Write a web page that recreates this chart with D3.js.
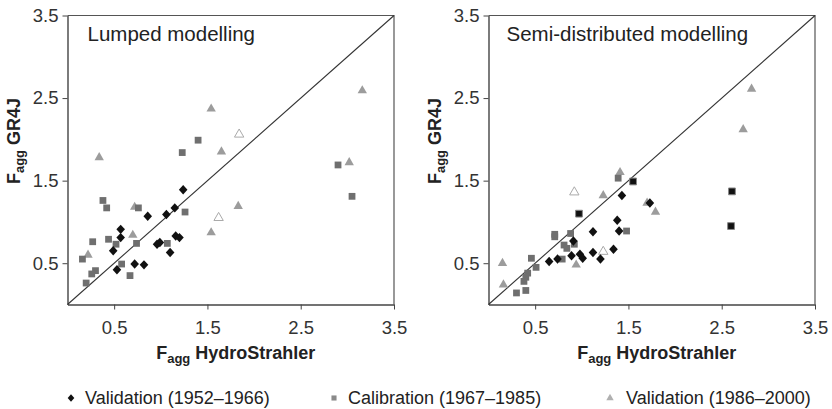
<!DOCTYPE html>
<html>
<head>
<meta charset="utf-8">
<script src="https://cdn.jsdelivr.net/npm/d3@7"></script>
<style>
  body { margin: 0; background: #fff; }
  svg { display: block; font-family: "Liberation Sans", Arial, sans-serif; }
</style>
</head>
<body>
<div id="my_dataviz"></div>
<script>

// tick labels shared by both axes
var tickValues = [0.5, 1.5, 2.5, 3.5];

// Lumped modelling panel, [F_agg HydroStrahler, F_agg GR4J]
var lumpedVal1 = [[1.24,1.39],[1.15,1.17],[1.06,1.09],[0.86,1.07],[0.57,0.91],[0.57,0.81],[0.96,0.73],[0.99,0.75],[1.16,0.83],[1.20,0.81],[0.49,0.65],[1.10,0.63],[0.72,0.49],[0.82,0.48],[0.53,0.42]];
var lumpedCal = [[1.40,1.99],[1.23,1.84],[0.38,1.26],[0.42,1.17],[0.76,1.17],[1.26,1.12],[0.44,0.79],[0.27,0.76],[0.52,0.73],[0.74,0.74],[1.07,0.74],[0.16,0.55],[0.58,0.49],[0.30,0.41],[0.26,0.37],[0.67,0.35],[0.20,0.26],[2.90,1.69],[3.05,1.31]];
var lumpedVal2 = [[3.16,2.59],[1.54,2.37],[1.65,1.85],[0.34,1.78],[3.02,1.72],[1.83,1.19],[0.72,1.18],[1.54,0.87],[0.70,0.84],[0.22,0.60]];
var lumpedVal2Faint = [[1.84,2.06],[1.62,1.05]];
var lumpedOverlap = [];

// Semi-distributed modelling panel
var semiVal1 = [[1.43,1.32],[1.73,1.23],[1.38,1.02],[1.12,0.88],[1.40,0.89],[0.91,0.77],[1.34,0.67],[1.12,0.63],[0.98,0.61],[1.01,0.56],[0.89,0.59],[1.20,0.55],[0.65,0.52],[0.74,0.55]];
var semiCal = [[1.39,1.53],[1.48,0.89],[0.71,0.85],[0.71,0.82],[0.88,0.86],[0.92,0.73],[0.81,0.72],[0.84,0.68],[0.79,0.55],[0.46,0.56],[0.51,0.45],[0.42,0.38],[0.40,0.33],[0.38,0.28],[0.40,0.17],[0.30,0.14]];
var semiVal2 = [[2.82,2.61],[2.73,2.12],[1.41,1.60],[1.23,1.32],[1.70,1.23],[1.79,1.12],[0.94,0.48],[0.15,0.50],[0.16,0.24]];
var semiVal2Faint = [[0.92,1.36],[1.23,0.64]];
// points where a 1952-1966 and a calibration marker sit on top of each other
var semiOverlap = [[1.55,1.49],[0.97,1.10],[2.61,1.37],[2.60,0.95]];

var legendLabels = ["Validation (1952\u20131966)", "Calibration (1967\u20131985)", "Validation (1986\u20132000)"];

var panels = [
  {title: "Lumped modelling", left: 67.5, titleX: 20, val1: lumpedVal1, cal: lumpedCal, val2: lumpedVal2, faint: lumpedVal2Faint, overlap: lumpedOverlap},
  {title: "Semi-distributed modelling", left: 488.5, titleX: 18, val1: semiVal1, cal: semiCal, val2: semiVal2, faint: semiVal2Faint, overlap: semiOverlap}
];

var width = 832, height = 409;
var plotW = 326.5;
var plotTop = 15.5, plotBottom = 304.5;

var svg = d3.select("#my_dataviz")
  .append("svg")
  .attr("width", width)
  .attr("height", height);

// custom diamond, a bit wider than d3.symbolDiamond
function diamond(r) {
  return "M0," + (-r * 1.1) + "L" + r + ",0L0," + (r * 1.1) + "L" + (-r) + ",0Z";
}
var squareSym = d3.symbol().type(d3.symbolSquare).size(46);
var triSym = d3.symbol().type(d3.symbolTriangle).size(38);

panels.forEach(function(p) {

  var x = d3.scaleLinear().domain([0, 3.5]).range([p.left, p.left + plotW]);
  var y = d3.scaleLinear().domain([0, 3.5]).range([plotBottom, plotTop]);

  var g = svg.append("g");

  // frame: top and right edges
  g.append("path")
    .attr("d", "M" + x(0) + "," + y(3.5) + "H" + x(3.5) + "V" + y(0))
    .attr("fill", "none")
    .attr("stroke", "#555")
    .attr("stroke-width", 1.2);

  var xAxis = g.append("g")
    .attr("transform", "translate(0," + plotBottom + ")")
    .call(d3.axisBottom(x).tickValues(tickValues).tickSize(5).tickSizeOuter(0).tickFormat(d3.format(".1f")));

  var yAxis = g.append("g")
    .attr("transform", "translate(" + p.left + ",0)")
    .call(d3.axisLeft(y).tickValues(tickValues).tickSize(5).tickSizeOuter(0).tickFormat(d3.format(".1f")));

  [xAxis, yAxis].forEach(function(a) {
    a.select(".domain").attr("stroke", "#444").attr("stroke-width", 1.4);
    a.selectAll(".tick line").attr("stroke", "#444");
    a.selectAll(".tick text")
      .attr("fill", "#333")
      .style("font-size", "18.5px")
      .style("font-family", "Liberation Sans, Arial, sans-serif");
  });
  xAxis.selectAll(".tick text").attr("y", 16);
  yAxis.selectAll(".tick text").attr("x", -9);

  // 1:1 line
  g.append("line")
    .attr("x1", x(0)).attr("y1", y(0))
    .attr("x2", x(3.5)).attr("y2", y(3.5))
    .attr("stroke", "#333")
    .attr("stroke-width", 1.1);

  g.append("text")
    .attr("x", p.left + p.titleX)
    .attr("y", 41)
    .attr("fill", "#222")
    .style("font-size", "20.5px")
    .text(p.title);

  // axis titles with subscript
  var xt = g.append("text")
    .attr("x", x(1.75) + 5)
    .attr("y", 359)
    .attr("text-anchor", "middle")
    .attr("fill", "#222")
    .style("font-weight", "bold")
    .style("font-size", "18px");
  xt.append("tspan").text("F");
  xt.append("tspan").attr("dy", 4).style("font-size", "13px").text("agg");
  xt.append("tspan").attr("dy", -4).text(" HydroStrahler");

  var yt = g.append("text")
    .attr("transform", "translate(" + (p.left - 48) + ",141) rotate(-90)")
    .attr("text-anchor", "middle")
    .attr("fill", "#222")
    .style("font-weight", "bold")
    .style("font-size", "18px");
  yt.append("tspan").text("F");
  yt.append("tspan").attr("dy", 4).style("font-size", "13px").text("agg");
  yt.append("tspan").attr("dy", -4).text(" GR4J");

  // markers
  g.append("g").selectAll("path")
    .data(p.val2)
    .enter().append("path")
      .attr("d", triSym)
      .attr("transform", function(d) { return "translate(" + x(d[0]) + "," + y(d[1]) + ")"; })
      .attr("fill", "#9c9c9c");

  g.append("g").selectAll("path")
    .data(p.faint)
    .enter().append("path")
      .attr("d", triSym)
      .attr("transform", function(d) { return "translate(" + x(d[0]) + "," + y(d[1]) + ")"; })
      .attr("fill", "#fff")
      .attr("stroke", "#aaa")
      .attr("stroke-width", 1);

  g.append("g").selectAll("path")
    .data(p.cal)
    .enter().append("path")
      .attr("d", squareSym)
      .attr("transform", function(d) { return "translate(" + x(d[0]) + "," + y(d[1]) + ")"; })
      .attr("fill", "#6f6f6f");

  g.append("g").selectAll("path")
    .data(p.val1)
    .enter().append("path")
      .attr("d", diamond(4.3))
      .attr("transform", function(d) { return "translate(" + x(d[0]) + "," + y(d[1]) + ")"; })
      .attr("fill", "#111");

  g.append("g").selectAll("path")
    .data(p.overlap)
    .enter().append("path")
      .attr("d", squareSym)
      .attr("transform", function(d) { return "translate(" + x(d[0]) + "," + y(d[1]) + ")"; })
      .attr("fill", "#111")
      .attr("stroke", "#888")
      .attr("stroke-width", 1);
});

// legend along the bottom
var legendX = [71, 334, 610];
var legend = svg.selectAll(".legend")
  .data(legendLabels)
  .enter().append("g")
  .attr("class", "legend")
  .attr("transform", function(d, i) { return "translate(" + legendX[i] + ",398)"; });

legend.append("path")
  .attr("d", function(d, i) {
    if (i == 0) return diamond(3.3);
    if (i == 1) return d3.symbol().type(d3.symbolSquare).size(26)();
    return d3.symbol().type(d3.symbolTriangle).size(24)();
  })
  .attr("fill", function(d, i) { return ["#111", "#8a8a8a", "#b0b0b0"][i]; });

legend.append("text")
  .attr("x", function(d, i) { return i == 2 ? 16 : 14; })
  .attr("y", 6)
  .attr("fill", "#222")
  .style("font-size", "18px")
  .text(function(d) { return d; });

</script>
</body>
</html>
